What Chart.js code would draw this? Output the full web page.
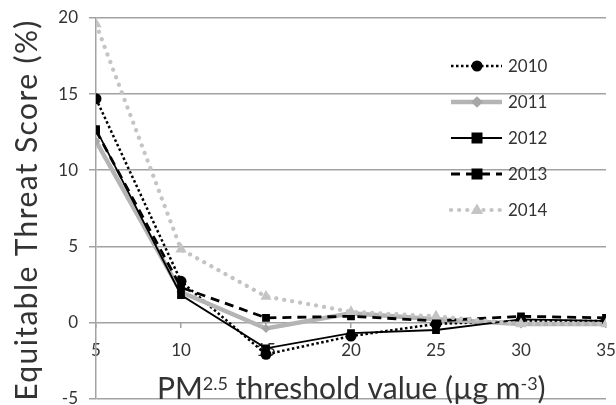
<!DOCTYPE html>
<html>
<head>
<meta charset="utf-8">
<script src="https://cdn.jsdelivr.net/npm/chart.js@4"></script>
<style>
  html, body { margin: 0; padding: 0; background: #fff; }
  #wrap { width: 616px; height: 405px; }
</style>
</head>
<body>
<div id="wrap"><canvas id="etsChart" width="616" height="405"></canvas></div>
<script>
// datos
const thresholds = [5, 10, 15, 20, 25, 30, 35];
const years = ["2010", "2011", "2012", "2013", "2014"];
const ets2010 = [14.7, 2.7, -2.1, -0.9, -0.1, 0.1, 0.1];
const ets2011 = [11.9, 2.0, -0.4, 0.6, 0.2, -0.1, -0.1];
const ets2012 = [12.7, 1.8, -1.7, -0.7, -0.5, 0.2, 0.1];
const ets2013 = [12.6, 2.3, 0.3, 0.4, 0.1, 0.4, 0.3];
const ets2014 = [19.6, 4.8, 1.7, 0.7, 0.4, -0.1, -0.1];
const yTicks = [-5, 0, 5, 10, 15, 20];

const yTitle = "Equitable Threat Score (%)";
// titulo del eje x con superindices
const xTitleParts = [
  { text: "PM", sup: false },
  { text: "2.5", sup: true },
  { text: " threshold value (\u00b5g m", sup: false },
  { text: "-3", sup: true },
  { text: ")", sup: false },
];

const FONT = "Lato";
const TEXT = "#333333";
const GRID = "#a2a2a2";

function toPoints(values) {
  return thresholds.map((t, i) => ({ x: t, y: values[i] }));
}

const seriesStyles = [
  { borderColor: "#000", borderWidth: 2.5, borderDash: [2.5, 2.5], pointStyle: "circle", pointRadius: 5.5, pointColor: "#000" },
  { borderColor: "#b4b4b4", borderWidth: 4.5, borderDash: [], pointStyle: "rectRot", pointRadius: 4.5, pointColor: "#a6a6a6" },
  { borderColor: "#000", borderWidth: 1.8, borderDash: [], pointStyle: "rect", pointRadius: 5.5, pointColor: "#000" },
  { borderColor: "#000", borderWidth: 2.8, borderDash: [9, 6], pointStyle: "rect", pointRadius: 5.5, pointColor: "#000" },
  { borderColor: "#c4c4c4", borderWidth: 4.2, borderDash: [0.1, 8], pointStyle: "triangle", pointRadius: 6.5, pointColor: "#c4c4c4" },
];
const seriesValues = [ets2010, ets2011, ets2012, ets2013, ets2014];

// marcador para la leyenda
function drawMarker(ctx, style, r, x, y, color) {
  ctx.save();
  ctx.fillStyle = color;
  ctx.setLineDash([]);
  ctx.beginPath();
  if (style === "circle") {
    ctx.arc(x, y, r, 0, Math.PI * 2);
  } else if (style === "rect") {
    ctx.rect(x - r, y - r, r * 2, r * 2);
  } else if (style === "rectRot") {
    ctx.moveTo(x, y - r * 1.3);
    ctx.lineTo(x + r * 1.3, y);
    ctx.lineTo(x, y + r * 1.3);
    ctx.lineTo(x - r * 1.3, y);
    ctx.closePath();
  } else if (style === "triangle") {
    ctx.moveTo(x, y - r);
    ctx.lineTo(x + r * 0.95, y + r * 0.6);
    ctx.lineTo(x - r * 0.95, y + r * 0.6);
    ctx.closePath();
  }
  ctx.fill();
  ctx.restore();
}

const legendPlugin = {
  id: "legendInside",
  afterDatasetsDraw(chart) {
    const ctx = chart.ctx;
    const x0 = 451, x1 = 502, xm = 477, xt = 508;
    chart.data.datasets.forEach((ds, i) => {
      const y = 66 + i * 36;
      ctx.save();
      ctx.strokeStyle = ds.borderColor;
      ctx.lineWidth = ds.borderWidth;
      ctx.setLineDash(ds.borderDash);
      ctx.lineCap = ds.borderDash.length && ds.borderDash[0] < 1 ? "round" : "butt";
      ctx.beginPath();
      ctx.moveTo(x0, y);
      ctx.lineTo(x1, y);
      ctx.stroke();
      ctx.restore();
      drawMarker(ctx, ds.pointStyle, ds.pointRadius, xm, y, ds.pointBackgroundColor);
      ctx.save();
      ctx.fillStyle = TEXT;
      ctx.font = "17px " + FONT;
      ctx.textBaseline = "middle";
      ctx.fillText(ds.label, xt, y + 1);
      ctx.restore();
    });
  },
};

const titlesPlugin = {
  id: "axisTitles",
  afterDatasetsDraw(chart) {
    const ctx = chart.ctx;
    // titulo eje y
    ctx.save();
    ctx.fillStyle = TEXT;
    ctx.font = "30px " + FONT;
    ctx.letterSpacing = "1.4px";
    ctx.translate(37, 210);
    ctx.rotate(-Math.PI / 2);
    ctx.textAlign = "center";
    ctx.textBaseline = "alphabetic";
    ctx.fillText(yTitle, 0, 0);
    ctx.restore();

    // titulo eje x
    ctx.save();
    ctx.fillStyle = TEXT;
    ctx.textBaseline = "alphabetic";
    let x = 157;
    const base = 399;
    xTitleParts.forEach((p) => {
      ctx.font = (p.sup ? "18px " : "30px ") + FONT;
      ctx.fillText(p.text, x, p.sup ? base - 9 : base);
      x += ctx.measureText(p.text).width;
    });
    ctx.restore();
  },
};

const datasets = years.map((yr, i) => {
  const s = seriesStyles[i];
  return {
    label: yr,
    data: toPoints(seriesValues[i]),
    borderColor: s.borderColor,
    borderWidth: s.borderWidth,
    borderDash: s.borderDash,
    borderCapStyle: s.borderDash.length && s.borderDash[0] < 1 ? "round" : "butt",
    pointStyle: s.pointStyle,
    pointRadius: s.pointRadius,
    pointBackgroundColor: s.pointColor,
    pointBorderColor: s.pointColor,
    pointBorderWidth: 0,
    tension: 0,
    fill: false,
    order: years.length - i,
  };
});

const chrt = document.getElementById("etsChart").getContext("2d");
new Chart(chrt, {
  type: "line",
  data: { datasets: datasets },
  options: {
    responsive: false,
    animation: false,
    layout: { padding: { top: 18, right: 10, bottom: 6, left: 0 } },
    plugins: {
      legend: { display: false },
      tooltip: { enabled: false },
    },
    scales: {
      x: {
        type: "linear",
        position: { y: 0 },
        min: 5,
        max: 35,
        afterBuildTicks: (scale) => {
          scale.ticks = thresholds.map((v) => ({ value: v }));
        },
        afterFit: (scale) => {
          scale.paddingLeft = 0;
          scale.paddingRight = 0;
        },
        ticks: {
          font: { family: FONT, size: 17 },
          color: TEXT,
          padding: 12,
          maxRotation: 0,
        },
        grid: {
          drawOnChartArea: false,
          color: GRID,
          lineWidth: 1.5,
          tickLength: 6,
        },
        border: { display: false },
      },
      y: {
        min: -5,
        max: 20,
        afterBuildTicks: (scale) => {
          scale.ticks = yTicks.map((v) => ({ value: v }));
        },
        afterFit: (scale) => {
          scale.width = 96;
          scale.paddingTop = 0;
          scale.paddingBottom = 0;
        },
        ticks: {
          font: { family: FONT, size: 17 },
          color: TEXT,
          padding: 11,
        },
        grid: {
          color: GRID,
          lineWidth: 1.5,
          tickLength: 7,
        },
        border: { color: GRID, width: 1.5 },
      },
    },
  },
  plugins: [legendPlugin, titlesPlugin],
});
</script>
</body>
</html>
